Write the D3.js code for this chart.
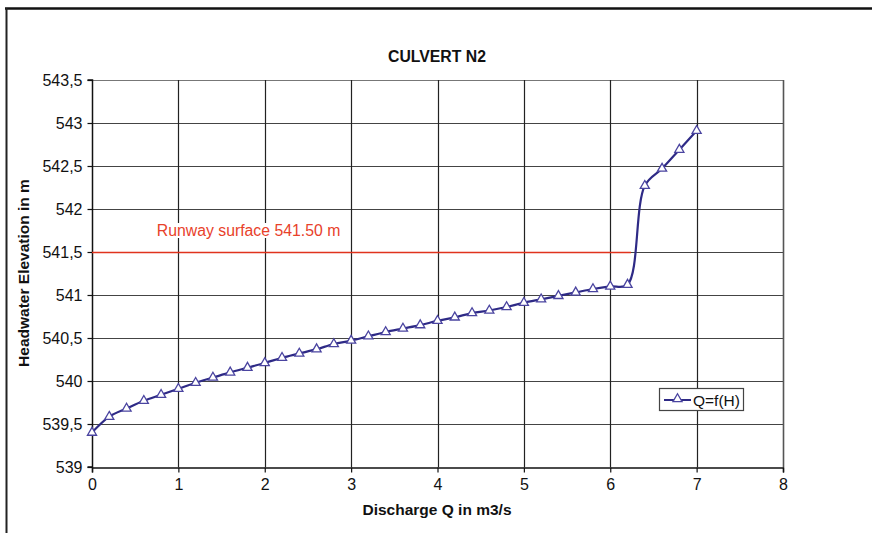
<!DOCTYPE html>
<html><head><meta charset="utf-8">
<script src="https://cdn.jsdelivr.net/npm/d3@7"></script>
<style>
html,body{margin:0;padding:0;background:#fff;}
svg{display:block;font-family:"Liberation Sans",Arial,Helvetica,sans-serif;}
</style></head>
<body>
<svg id="chart" width="872" height="533"></svg>
<script>
// ---- data ----
const discharge = [0,0.2,0.4,0.6,0.8,1.0,1.2,1.4,1.6,1.8,2.0,2.2,2.4,2.6,2.8,3.0,3.2,3.4,3.6,3.8,4.0,4.2,4.4,4.6,4.8,5.0,5.2,5.4,5.6,5.8,6.0,6.2,6.4,6.6,6.8,7.0];
const elevation = [539.40,539.585,539.68,539.77,539.84,539.91,539.98,540.04,540.10,540.155,540.21,540.27,540.32,540.37,540.43,540.47,540.52,540.57,540.61,540.65,540.70,540.74,540.79,540.82,540.86,540.91,540.95,540.99,541.03,541.07,541.10,541.12,542.27,542.47,542.69,542.91];
const xTicks = [0,1,2,3,4,5,6,7,8];
const yTicks = [539,539.5,540,540.5,541,541.5,542,542.5,543,543.5];
const yTickLabels = ["539","539,5","540","540,5","541","541,5","542","542,5","543","543,5"];
const runwayLevel = 541.5;
const runwayQ = [0, 6.24];
const runwayLabel = "Runway surface 541.50 m";
const seriesName = "Q=f(H)";
const title = "CULVERT N2";
const xTitle = "Discharge Q in m3/s";
const yTitle = "Headwater Elevation in m";

// ---- layout ----
const svg = d3.select("#chart");
const L = 92, R = 783, T = 80, B = 467;
const x = d3.scaleLinear().domain([0,8]).range([L,R]);
const y = d3.scaleLinear().domain([539,543.5]).range([B,T]);

// outer frame
svg.append("line").attr("x1",5).attr("x2",872).attr("y1",8.5).attr("y2",8.5).attr("stroke","#111").attr("stroke-width",2.5);
svg.append("line").attr("x1",6.5).attr("x2",6.5).attr("y1",8).attr("y2",533).attr("stroke","#222").attr("stroke-width",2);

// grid
const g = svg.append("g");
g.selectAll(".hg").data(yTicks.slice(1)).join("line")
  .attr("x1",L).attr("x2",R).attr("y1",d=>Math.round(y(d))+0.5).attr("y2",d=>Math.round(y(d))+0.5)
  .attr("stroke",(d,i)=> d===543.5 ? "#777" : "#444").attr("stroke-width",1.2);
g.selectAll(".vg").data(xTicks.slice(1)).join("line")
  .attr("x1",d=>Math.round(x(d))+0.5).attr("x2",d=>Math.round(x(d))+0.5).attr("y1",T).attr("y2",B)
  .attr("stroke",d=> d===8 ? "#555" : "#222").attr("stroke-width",d=> d===8 ? 1.6 : 1.2);

// axes
const xAxis = d3.axisBottom(x).tickValues(xTicks).tickFormat(d3.format("d")).tickSize(5).tickPadding(6);
const yAxis = d3.axisLeft(y).tickValues(yTicks).tickFormat((d,i)=>yTickLabels[i]).tickSize(5).tickPadding(5);
const gx = svg.append("g").attr("transform",`translate(0,${B+0.5})`).call(xAxis);
const gy = svg.append("g").attr("transform",`translate(${L+0.5},0)`).call(yAxis);
[gx,gy].forEach(a=>{
  a.select(".domain").attr("stroke","#111").attr("stroke-width",1.5);
  a.selectAll(".tick line").attr("stroke","#111").attr("stroke-width",1.2);
  a.selectAll("text").attr("font-size",16).attr("fill","#111").attr("font-family","Liberation Sans, Arial, sans-serif");
});
gy.select(".domain").attr("d",`M-5,${B}H0V${T}H-5`);

// runway line
svg.append("line").attr("x1",x(runwayQ[0])).attr("x2",x(runwayQ[1]))
  .attr("y1",Math.round(y(runwayLevel))+0.5).attr("y2",Math.round(y(runwayLevel))+0.5)
  .attr("stroke","#e0331d").attr("stroke-width",1.4);
const rl = svg.append("g");
const rlText = rl.append("text").attr("x",x(0.75)).attr("y",y(runwayLevel)-16)
  .attr("font-size",15.8).attr("fill","#e8412a").text(runwayLabel);
const bb = rlText.node().getBBox();
rl.insert("rect","text").attr("x",bb.x-2).attr("y",bb.y+1).attr("width",bb.width+4).attr("height",bb.height-2).attr("fill","#fff");

// series
const pts = discharge.map((q,i)=>[q,elevation[i]]);
const line = d3.line().x(d=>x(d[0])).y(d=>y(d[1])).curve(d3.curveCatmullRom.alpha(0.5));
svg.append("path").attr("d",line(pts)).attr("fill","none").attr("stroke","#2e2a86").attr("stroke-width",2.2);
const tri = d3.symbol().type(d3.symbolTriangle).size(36);
svg.selectAll(".m").data(pts).join("path")
  .attr("transform",d=>`translate(${x(d[0])},${y(d[1])})`)
  .attr("d",tri).attr("fill","#fff").attr("stroke","#4a44a0").attr("stroke-width",1.3);

// titles
svg.append("text").attr("x",437).attr("y",62).attr("text-anchor","middle")
  .attr("font-size",15.8).attr("font-weight","bold").attr("fill","#111").text(title);
svg.append("text").attr("x",437).attr("y",515).attr("text-anchor","middle")
  .attr("font-size",15.5).attr("font-weight","bold").attr("fill","#111").text(xTitle);
svg.append("text").attr("transform","translate(29,273) rotate(-90)").attr("text-anchor","middle")
  .attr("font-size",15.5).attr("font-weight","bold").attr("fill","#111").text(yTitle);

// legend
const lg = svg.append("g").attr("transform","translate(659,388)");
lg.append("rect").attr("x",0.5).attr("y",0.5).attr("width",84).attr("height",22).attr("fill","#fff").attr("stroke","#444").attr("stroke-width",1.2);
lg.append("line").attr("x1",5).attr("x2",32).attr("y1",12).attr("y2",12).attr("stroke","#2e2a86").attr("stroke-width",2);
lg.append("path").attr("transform","translate(18.5,11)").attr("d",tri).attr("fill","#fff").attr("stroke","#4a44a0").attr("stroke-width",1.3);
lg.append("text").attr("x",34).attr("y",17.5).attr("font-size",15.5).attr("fill","#111").text(seriesName);
</script>
</body></html>
